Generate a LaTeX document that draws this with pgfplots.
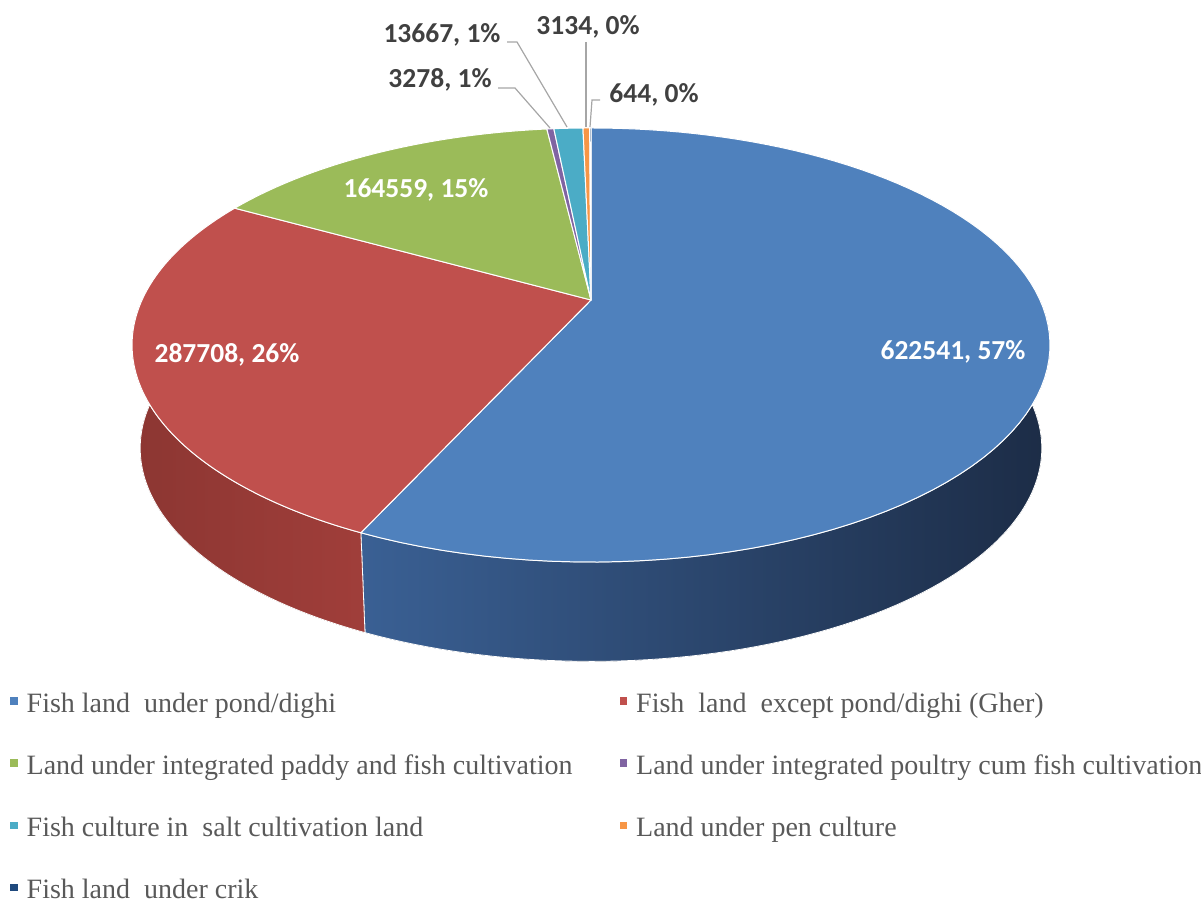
\documentclass[border=0pt]{standalone}
\usepackage{pgfplots}
\pgfplotsset{compat=1.18}
\usepgfplotslibrary{fillbetween}
\usepackage{fontspec}
\setmainfont{Liberation Serif}
\newfontfamily\carlito{Carlito}
\definecolor{cBlue}{RGB}{79,129,189}
\definecolor{cRed}{RGB}{192,80,77}
\definecolor{cGreen}{RGB}{155,187,89}
\definecolor{cPurple}{RGB}{128,100,162}
\definecolor{cTeal}{RGB}{75,172,198}
\definecolor{cOrange}{RGB}{247,150,70}
\definecolor{cNavy}{RGB}{31,73,125}
\definecolor{sBlueL}{RGB}{58,96,148}
\definecolor{sBlueR}{RGB}{28,44,70}
\definecolor{sRedL}{RGB}{140,54,50}
\definecolor{sRedR}{RGB}{160,62,58}
\definecolor{lblgray}{RGB}{64,64,64}
\definecolor{leggray}{RGB}{89,89,89}
\definecolor{leadgray}{RGB}{166,166,166}
% data (values of the slices)
\def\vA{622541}\def\vB{287708}\def\vC{164559}\def\vD{3278}
\def\vE{13667}\def\vF{3134}\def\vG{644}
\edef\vT{\fpeval{\vA+\vB+\vC+\vD+\vE+\vF+\vG}}
\edef\aA{90}
\edef\aB{\fpeval{\aA-360*\vA/\vT}}
\edef\aC{\fpeval{\aB-360*\vB/\vT}}
\edef\aD{\fpeval{\aC-360*\vC/\vT}}
\edef\aE{\fpeval{\aD-360*\vD/\vT}}
\edef\aF{\fpeval{\aE-360*\vE/\vT}}
\edef\aG{\fpeval{\aF-360*\vF/\vT}}
\edef\aH{\fpeval{\aG-360*\vG/\vT}}
% perspective ellipse (top and bottom faces)
\def\tx{591+449*cos(\t)/(1+0.2074*sin(\t))}
\def\ty{606+207.7*sin(\t)/(1+0.2074*sin(\t))}
\def\bx{591+441*cos(\t)/(1+0.2074*sin(\t))}
\def\by{502+204*sin(\t)/(1+0.2074*sin(\t))}
\newcommand\slice[3]{%
  \addplot[fill=#1, draw=white, line width=1pt, line join=round, variable=\t,
    domain=#2:#3, samples=90] ({\tx},{\ty}) -- (axis cs:591,606) -- cycle;}
\begin{document}
\begin{tikzpicture}
\begin{axis}[at={(0pt,0pt)}, anchor=south west,
  scale only axis, width=1201pt, height=906pt,
  xmin=0, xmax=1201, ymin=0, ymax=906, hide axis, clip=false,
  legend columns=2, legend cell align=left,
  legend image code/.code={\fill[#1,draw=none] (0pt,-1.25pt) rectangle (7.5pt,6.25pt);},
  legend style={at={(axis description cs:0.00833,0.23554)}, anchor=north west,
    draw=none, fill=none, inner sep=0pt, row sep=41.2pt, column sep=0pt,
    font=\fontsize{28}{34}\selectfont, text=leggray,
    nodes={inner sep=0pt},
    /tikz/every odd column/.append style={column sep=9pt}},
]
% sides
\addplot[draw=none, name path=topB, variable=\t, domain=\aB:0, samples=80, forget plot] ({\tx},{\ty});
\addplot[draw=none, name path=botB, variable=\t, domain=\aB:0, samples=80, forget plot] ({\bx},{\by});
\addplot[left color=sBlueL, right color=sBlueR, draw=white, line width=0.8pt, forget plot] fill between[of=topB and botB];
\addplot[draw=none, name path=topR, variable=\t, domain=-180:\aB, samples=80, forget plot] ({\tx},{\ty});
\addplot[draw=none, name path=botR, variable=\t, domain=-180:\aB, samples=80, forget plot] ({\bx},{\by});
\addplot[left color=sRedL, right color=sRedR, draw=white, line width=0.8pt, forget plot] fill between[of=topR and botR];
% top face
\slice{cBlue}{\aB}{\aA}
\addlegendentry{\makebox[593pt][l]{Fish land\ \ under pond/dighi}}
\slice{cRed}{\aC}{\aB}
\addlegendentry{Fish\ \ land\ \ except pond/dighi (Gher)}
\slice{cGreen}{\aD}{\aC}
\addlegendentry{\makebox[593pt][l]{Land under integrated paddy and fish cultivation}}
\slice{cPurple}{\aE}{\aD}
\addlegendentry{Land under integrated poultry cum fish cultivation}
\slice{cTeal}{\aF}{\aE}
\addlegendentry{\makebox[593pt][l]{Fish culture in\ \ salt cultivation land}}
\slice{cOrange}{\aG}{\aF}
\addlegendentry{Land under pen culture}
\slice{cNavy}{\aH}{\aG}
\addlegendentry{\makebox[593pt][l]{Fish land\ \ under crik}}
% leader lines
\draw[leadgray, line width=1.2pt] (axis cs:498,818) -- (axis cs:515,818) -- (axis cs:550,778);
\draw[leadgray, line width=1.2pt] (axis cs:507,864) -- (axis cs:517,864) -- (axis cs:567,779);
\draw[leadgray, line width=1.2pt] (axis cs:586,864) -- (axis cs:586,779);
\draw[leadgray, line width=1.2pt] (axis cs:600,806) -- (axis cs:592,806) -- (axis cs:590,779);
% labels
\begin{scope}[every node/.style={font=\carlito\bfseries\fontsize{27.5}{30}\selectfont}]
\node[text=white] at (axis cs:953,554) {622541, 57\%};
\node[text=white] at (axis cs:227,551) {287708, 26\%};
\node[text=white] at (axis cs:416,716) {164559, 15\%};
\node[text=lblgray] at (axis cs:440,826) {3278, 1\%};
\node[text=lblgray] at (axis cs:442,871) {13667, 1\%};
\node[text=lblgray] at (axis cs:588,879) {3134, 0\%};
\node[text=lblgray] at (axis cs:654,811) {644, 0\%};
\end{scope}
\end{axis}
\pgfresetboundingbox
\useasboundingbox (0pt,0pt) rectangle (1201pt,906pt);
\end{tikzpicture}
\end{document}
